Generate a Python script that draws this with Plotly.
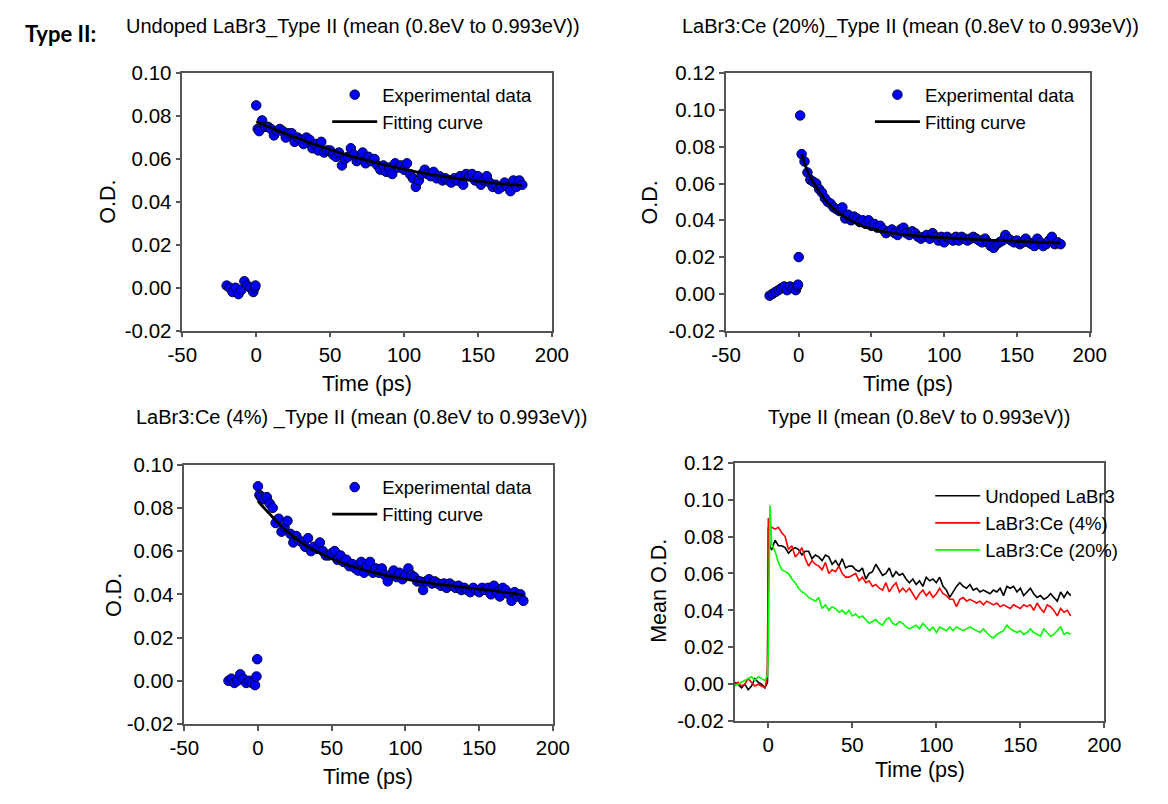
import plotly.graph_objects as go

W, H = 1168, 804

# ---------------- data ----------------
t_pre = [-20, -18, -16, -14, -12, -10, -8, -6, -4, -2, -1, -0.5, 0, 1]
t_post = [2, 4, 6, 8, 10, 12, 14, 16, 18, 20, 22, 24, 26, 28, 30, 32, 34, 36, 38, 40,
          42, 44, 46, 48, 50, 52, 54, 56, 58, 60, 62, 64, 66, 68, 70, 72, 74, 76, 78, 80,
          82, 84, 86, 88, 90, 92, 94, 96, 98, 100, 102, 104, 106, 108, 110, 112, 114, 116, 118, 120,
          122, 124, 126, 128, 130, 132, 134, 136, 138, 140, 142, 144, 146, 148, 150, 152, 154, 156, 158, 160,
          162, 164, 166, 168, 170, 172, 174, 176, 178, 180]
time = t_pre + t_post

od_undoped = [0.001, 0.000, -0.002, 0.000, -0.003, -0.001, 0.003, 0.001, 0.000, -0.002, 0.000, 0.001, 0.085, 0.074,
              0.073, 0.078, 0.075, 0.075, 0.074, 0.071, 0.073, 0.074, 0.073, 0.070,
              0.072, 0.072, 0.068, 0.070, 0.069, 0.067, 0.070, 0.069, 0.065, 0.067,
              0.064, 0.068, 0.063, 0.064, 0.064, 0.062, 0.061, 0.063, 0.057, 0.060,
              0.061, 0.065, 0.062, 0.059, 0.060, 0.063, 0.058, 0.061, 0.059, 0.060,
              0.057, 0.055, 0.057, 0.054, 0.056, 0.053, 0.058, 0.056, 0.057, 0.055,
              0.058, 0.053, 0.051, 0.047, 0.050, 0.053, 0.055, 0.053, 0.052, 0.054,
              0.051, 0.052, 0.050, 0.051, 0.050, 0.049, 0.051, 0.050, 0.052, 0.048,
              0.053, 0.052, 0.053, 0.050, 0.052, 0.048, 0.050, 0.052, 0.049, 0.047,
              0.048, 0.046, 0.047, 0.049, 0.047, 0.045, 0.050, 0.047, 0.050, 0.048]

od_ce4 = [0.000, 0.001, -0.001, 0.000, 0.003, 0.001, -0.001, 0.000, -0.001, -0.002, 0.002, 0.010, 0.090, 0.086,
          0.085, 0.084, 0.085, 0.082, 0.080, 0.073, 0.075, 0.069, 0.071, 0.074,
          0.068, 0.064, 0.067, 0.065, 0.064, 0.062, 0.066, 0.060, 0.062, 0.061,
          0.064, 0.060, 0.058, 0.058, 0.059, 0.060, 0.056, 0.058, 0.055, 0.056,
          0.053, 0.054, 0.052, 0.051, 0.055, 0.050, 0.053, 0.055, 0.050, 0.052,
          0.050, 0.052, 0.049, 0.046, 0.049, 0.051, 0.048, 0.050, 0.047, 0.049,
          0.052, 0.049, 0.048, 0.046, 0.046, 0.042, 0.046, 0.047, 0.045, 0.046,
          0.045, 0.044, 0.045, 0.043, 0.045, 0.044, 0.043, 0.044, 0.042, 0.043,
          0.042, 0.041, 0.043, 0.042, 0.041, 0.043, 0.042, 0.043, 0.040, 0.044,
          0.041, 0.039, 0.043, 0.042, 0.040, 0.037, 0.041, 0.039, 0.040, 0.037]

od_ce20 = [-0.001, 0.000, 0.001, 0.002, 0.003, 0.004, 0.002, 0.004, 0.003, 0.002, 0.004, 0.005, 0.020, 0.097,
           0.076, 0.072, 0.066, 0.062, 0.061, 0.060, 0.057, 0.055, 0.052, 0.050,
           0.049, 0.047, 0.046, 0.045, 0.047, 0.041, 0.043, 0.040, 0.042, 0.041,
           0.039, 0.040, 0.038, 0.040, 0.037, 0.038, 0.036, 0.037, 0.035, 0.033,
           0.034, 0.035, 0.033, 0.032, 0.035, 0.036, 0.033, 0.032, 0.034, 0.033,
           0.031, 0.030, 0.031, 0.032, 0.030, 0.033, 0.031, 0.029, 0.031, 0.028,
           0.031, 0.030, 0.029, 0.031, 0.029, 0.031, 0.030, 0.029, 0.030, 0.031,
           0.030, 0.029, 0.028, 0.030, 0.028, 0.026, 0.025, 0.027, 0.028, 0.029,
           0.032, 0.030, 0.029, 0.028, 0.029, 0.027, 0.028, 0.030, 0.028, 0.027,
           0.026, 0.030, 0.028, 0.026, 0.027, 0.029, 0.031, 0.027, 0.028, 0.027]

fit_t_undoped = [0, 10, 20, 30, 40, 50, 60, 70, 80, 90, 100, 110, 120, 130, 140, 150, 160, 170, 180]
fit_undoped = [0.0774, 0.0745, 0.0718, 0.0692, 0.0667, 0.0644, 0.0622, 0.0602, 0.0584, 0.0567,
               0.0552, 0.0538, 0.0526, 0.0515, 0.0505, 0.0497, 0.0489, 0.0482, 0.0476]

fit_t_ce4 = [0, 5, 10, 15, 20, 30, 40, 50, 60, 70, 80, 90, 100, 110, 120, 130, 140, 150, 160, 170, 180]
fit_ce4 = [0.0832, 0.0793, 0.0757, 0.0722, 0.0690, 0.0637, 0.0598, 0.0565, 0.0538, 0.0516, 0.0498,
           0.0483, 0.0470, 0.0459, 0.0449, 0.0440, 0.0432, 0.0424, 0.0416, 0.0407, 0.0398]

fit_t_ce20 = [2, 4, 6, 8, 10, 15, 20, 25, 30, 40, 50, 60, 70, 80, 90, 100, 120, 140, 160, 180]
fit_ce20 = [0.0760, 0.0710, 0.0668, 0.0635, 0.0607, 0.0545, 0.0495, 0.0456, 0.0425, 0.0381, 0.0353,
            0.0335, 0.0324, 0.0316, 0.0310, 0.0305, 0.0296, 0.0289, 0.0282, 0.0276]

x_ticks = [-50, 0, 50, 100, 150, 200]
x_ticks4 = [0, 50, 100, 150, 200]
y_ticks_010 = [-0.02, 0.00, 0.02, 0.04, 0.06, 0.08, 0.10]
y_ticks_012 = [-0.02, 0.00, 0.02, 0.04, 0.06, 0.08, 0.10, 0.12]

titles = ["Undoped LaBr3_Type II (mean (0.8eV to 0.993eV))",
          "LaBr3:Ce (20%)_Type II (mean (0.8eV to 0.993eV))",
          "LaBr3:Ce (4%) _Type II (mean (0.8eV to 0.993eV))",
          "Type II (mean (0.8eV to 0.993eV))"]
mean_names = ["Undoped LaBr3", "LaBr3:Ce (4%)", "LaBr3:Ce (20%)"]
mean_colors = ["#000000", "#ff0000", "#00ff00"]

# ---------------- styling ----------------
FONT = "Liberation Sans, Arial, sans-serif"
TICKF = dict(family=FONT, size=20.5, color="#000000")
AX = "#555555"


def px_x(p):
    return p / W


def px_y(p):
    return 1 - p / H


def tick_labels(vals, fmt):
    return [fmt.format(v).replace("\u2212", "-") for v in vals]


fig = go.Figure()

panels = [
    dict(x=(172, 552), y=(63, 328), xr=[-50, 200], yt=y_ticks_010, yr=[-0.02, 0.10],
         od=od_undoped, ft=fit_t_undoped, fv=fit_undoped),
    dict(x=(731, 1105), y=(63, 328), xr=[-50, 200], yt=y_ticks_012, yr=[-0.02, 0.12],
         od=od_ce20, ft=fit_t_ce20, fv=fit_ce20),
    dict(x=(174, 553), y=(466, 733), xr=[-50, 200], yt=y_ticks_010, yr=[-0.02, 0.10],
         od=od_ce4, ft=fit_t_ce4, fv=fit_ce4),
]

layout_axes = {}
for i, p in enumerate(panels):
    n = i + 1
    xa = "x" if n == 1 else f"x{n}"
    ya = "y" if n == 1 else f"y{n}"
    lg = "legend" if n == 1 else f"legend{n}"
    fig.add_trace(go.Scatter(
        x=time, y=p["od"], mode="markers", name="Experimental data",
        marker=dict(color="#0000ff", size=9.5, line=dict(color="#000033", width=1)),
        xaxis=xa, yaxis=ya, legend=lg))
    fig.add_trace(go.Scatter(
        x=p["ft"], y=p["fv"], mode="lines", name="Fitting curve",
        line=dict(color="#000000", width=2.8, shape="spline"),
        xaxis=xa, yaxis=ya, legend=lg))
    layout_axes["xaxis" if n == 1 else f"xaxis{n}"] = dict(
        domain=[px_x(p["x"][0]), px_x(p["x"][1])], range=p["xr"], anchor=ya,
        tickvals=x_ticks, ticktext=[str(v) for v in x_ticks])
    layout_axes["yaxis" if n == 1 else f"yaxis{n}"] = dict(
        domain=[px_y(p["y"][1]), px_y(p["y"][0])], range=p["yr"], anchor=xa,
        tickvals=p["yt"], ticktext=tick_labels(p["yt"], "{:.2f}"))

# panel 4: mean O.D. lines
for name, col, od in zip(mean_names, mean_colors, [od_undoped, od_ce4, od_ce20]):
    fig.add_trace(go.Scatter(
        x=time, y=od, mode="lines", name=name,
        line=dict(color=col, width=1.6),
        xaxis="x4", yaxis="y4", legend="legend4"))
layout_axes["xaxis4"] = dict(domain=[px_x(740), px_x(1120)], range=[-20, 200], anchor="y4",
                             tickvals=x_ticks4, ticktext=[str(v) for v in x_ticks4])
layout_axes["yaxis4"] = dict(domain=[px_y(730), px_y(464)], range=[-0.02, 0.12], anchor="x4",
                             tickvals=y_ticks_012, ticktext=tick_labels(y_ticks_012, "{:.2f}"))

for k, v in layout_axes.items():
    v.update(showgrid=False, zeroline=False, showline=True, linecolor=AX, linewidth=1.5,
             mirror=True, ticks="outside", ticklen=5, tickwidth=1.5, tickcolor=AX,
             tickfont=TICKF)

ann = []
title_pos = [(348, 15), (921, 15), (356, 417), (929, 417)]
for t, (x, y) in zip(titles, title_pos):
    ann.append(dict(text=t, x=px_x(x), y=px_y(y), xref="paper", yref="paper",
                    xanchor="center", yanchor="middle", showarrow=False,
                    font=dict(family=FONT, size=20, color="#000000")))
for x, y in [(362, 383), (918, 383), (363, 788), (930, 780)]:
    ann.append(dict(text="Time (ps)", x=px_x(x), y=px_y(y), xref="paper", yref="paper",
                    xanchor="center", yanchor="middle", showarrow=False,
                    font=dict(family=FONT, size=21.5, color="#000000")))
for txt, x, y in [("O.D.", 96, 195), ("O.D.", 653, 196), ("O.D.", 102, 600), ("Mean O.D.", 662, 596)]:
    ann.append(dict(text=txt, x=px_x(x), y=px_y(y), xref="paper", yref="paper",
                    xanchor="center", yanchor="middle", showarrow=False, textangle=-90,
                    font=dict(family=FONT, size=21.5, color="#000000")))
ann.append(dict(text="<b>Type II:</b>", x=px_x(8), y=px_y(22), xref="paper", yref="paper",
                xanchor="left", yanchor="middle", showarrow=False,
                font=dict(family="Lato, Carlito, sans-serif", size=22, color="#000000")))

LEGF = dict(family=FONT, size=18.5, color="#000000")
leg_common = dict(xanchor="left", yanchor="top", bgcolor="rgba(0,0,0,0)", font=LEGF,
                  itemwidth=45, tracegroupgap=0, borderwidth=0)

fig.update_layout(
    width=W, height=H, margin=dict(l=0, r=0, t=0, b=0),
    paper_bgcolor="#ffffff", plot_bgcolor="#ffffff",
    showlegend=True,
    legend=dict(x=px_x(321), y=px_y(66), **leg_common),
    legend2=dict(x=px_x(879), y=px_y(66), **leg_common),
    legend3=dict(x=px_x(321), y=px_y(470), **leg_common),
    legend4=dict(x=px_x(941), y=px_y(479), **leg_common),
    annotations=ann,
    **layout_axes,
)

fig.write_html("out.html")
